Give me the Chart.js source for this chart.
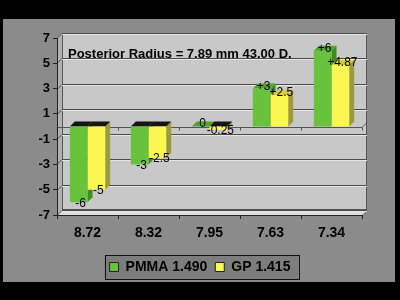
<!DOCTYPE html>
<html>
<head>
<meta charset="utf-8">
<script src="https://cdn.jsdelivr.net/npm/chart.js@4.4.1/dist/chart.umd.min.js"></script>
<style>
  html, body { margin: 0; padding: 0; background: #000; }
  #wrap { width: 400px; height: 300px; }
</style>
</head>
<body>
<div id="wrap"><canvas id="chart" width="400" height="300"></canvas></div>
<script>
// data
const categories = ['8.72', '8.32', '7.95', '7.63', '7.34'];
const pmmaValues = [-6, -3, 0, 3, 6];
const gpValues = [-5, -2.5, -0.25, 2.5, 4.87];
const seriesNames = ['PMMA 1.490', 'GP 1.415'];
const chartTitle = 'Posterior Radius = 7.89 mm 43.00 D.';

const FONT = '"Liberation Sans", Arial, sans-serif';
const D = 5; // 3d depth

function fmt(v) {
  return v > 0 ? '+' + v : String(v);
}

function quad(ctx, pts, fill) {
  ctx.beginPath();
  ctx.moveTo(pts[0][0], pts[0][1]);
  for (let i = 1; i < pts.length; i++) ctx.lineTo(pts[i][0], pts[i][1]);
  ctx.closePath();
  ctx.fillStyle = fill;
  ctx.fill();
}

// panel, walls, back grid, title
const backdrop = {
  id: 'backdrop',
  afterLayout(chart) {
    // centre the legend on the whole panel, not on the padded area
    const lg = chart.legend;
    lg.right = chart.width;
    lg.width = chart.width - lg.left;
  },
  beforeDraw(chart) {
    const ctx = chart.ctx;
    const a = chart.chartArea;
    const y = chart.scales.y;
    ctx.save();
    ctx.fillStyle = '#000';
    ctx.fillRect(0, 0, chart.width, chart.height);
    ctx.fillStyle = '#8b8b8b';
    ctx.fillRect(3, 19, 392, 263);

    // back wall
    ctx.fillStyle = '#c8c8c8';
    ctx.fillRect(a.left + D, a.top - D, a.width, a.height);
    // left wall
    quad(ctx, [[a.left, a.top], [a.left + D, a.top - D], [a.left + D, a.bottom - D], [a.left, a.bottom]], '#b2b2b2');
    // floor
    quad(ctx, [[a.left, a.bottom], [a.left + D, a.bottom - D], [a.right + D, a.bottom - D], [a.right, a.bottom]], '#dedede');

    ctx.strokeStyle = '#555';
    ctx.lineWidth = 1;
    ctx.strokeRect(a.left + D + 0.5, a.top - D + 0.5, a.width - 1, a.height - 1);

    // grid on back wall
    y.ticks.forEach(t => {
      const py = Math.round(y.getPixelForValue(t.value)) + 0.5;
      ctx.beginPath();
      ctx.moveTo(a.left, py);
      ctx.lineTo(a.left + D, py - D);
      ctx.lineTo(a.right + D, py - D);
      ctx.strokeStyle = '#4a4a4a';
      ctx.stroke();
      ctx.beginPath();
      ctx.moveTo(a.left + D, py - D + 1);
      ctx.lineTo(a.right + D, py - D + 1);
      ctx.strokeStyle = '#e6e6e6';
      ctx.stroke();
    });

    // category plane at zero
    const z = Math.round(y.getPixelForValue(0)) + 0.5;
    ctx.beginPath();
    ctx.moveTo(a.left, z);
    ctx.lineTo(a.right, z);
    ctx.lineTo(a.right + D, z - D);
    ctx.strokeStyle = '#555';
    ctx.stroke();
    const x = chart.scales.x;
    for (let i = 1; i <= categories.length; i++) {
      const px = Math.round(x.getPixelForValue(i - 0.5)) + 0.5;
      ctx.beginPath();
      ctx.moveTo(px, z);
      ctx.lineTo(px, z + 3);
      ctx.stroke();
    }

    // legend frame
    const boxes = chart.legend.legendHitBoxes;
    if (boxes && boxes.length) {
      const l = Math.min(...boxes.map(b => b.left)) - 5;
      const r = Math.max(...boxes.map(b => b.left + b.width)) + 8;
      const t = boxes[0].top - 5;
      const h = boxes[0].height + 10;
      ctx.fillStyle = '#7d7d7d';
      ctx.fillRect(l, t, r - l, h);
      ctx.strokeStyle = '#111';
      ctx.strokeRect(Math.round(l) + 0.5, Math.round(t) + 0.5, Math.round(r - l), Math.round(h));
    }

    // caption inside the plot
    ctx.fillStyle = '#000';
    ctx.font = 'bold 13px ' + FONT;
    ctx.textBaseline = 'middle';
    ctx.textAlign = 'left';
    ctx.fillText(chartTitle, 68, 54);
    ctx.restore();
  }
};

// side and top faces of each bar, drawn behind the fronts
const faces = {
  id: 'faces',
  beforeDatasetsDraw(chart) {
    const ctx = chart.ctx;
    ctx.save();
    chart.data.datasets.forEach((ds, di) => {
      chart.getDatasetMeta(di).data.forEach((el, i) => {
        const p = el.getProps(['x', 'y', 'base', 'width'], true);
        const l = p.x - p.width / 2;
        const r = p.x + p.width / 2;
        const top = Math.min(p.y, p.base);
        const bot = Math.max(p.y, p.base);
        const v = ds.data[i];
        quad(ctx, [[r, top], [r + D, top - D], [r + D, bot - D], [r, bot]], ds.sideColor);
        quad(ctx, [[l, top], [l + D, top - D], [r + D, top - D], [r, top]], v < 0 ? '#151515' : ds.topColor);
      });
    });
    ctx.restore();
  },
  afterDatasetsDraw(chart) {
    const ctx = chart.ctx;
    ctx.save();
    ctx.fillStyle = '#000';
    ctx.font = '12px ' + FONT;
    ctx.textAlign = 'center';
    ctx.textBaseline = 'middle';
    chart.data.datasets.forEach((ds, di) => {
      chart.getDatasetMeta(di).data.forEach((el, i) => {
        const v = ds.data[i];
        const off = v > 0 ? -2 : (v < 0 ? 1 : -3);
        ctx.fillText(fmt(v), el.x + 2, el.y + off);
      });
    });
    ctx.restore();
  }
};

new Chart(document.getElementById('chart'), {
  type: 'bar',
  data: {
    labels: categories,
    datasets: [
      {
        label: seriesNames[0],
        data: pmmaValues,
        backgroundColor: '#68c23c',
        sideColor: '#3f8a22',
        topColor: '#4fa42c',
        borderWidth: 0
      },
      {
        label: seriesNames[1],
        data: gpValues,
        backgroundColor: '#fbf650',
        sideColor: '#9c9a3c',
        topColor: '#cfcb44',
        borderWidth: 0
      }
    ]
  },
  options: {
    responsive: false,
    animation: false,
    devicePixelRatio: 1,
    layout: { padding: { top: 38, left: 0, right: 38, bottom: 16 } },
    datasets: {
      bar: { categoryPercentage: 0.58, barPercentage: 1 }
    },
    scales: {
      x: {
        grid: { drawOnChartArea: false, drawTicks: true, tickLength: 4, color: '#222' },
        border: { display: true, color: '#222' },
        ticks: { color: '#000', font: { family: FONT, size: 14, weight: 'bold' }, padding: 6 },
        afterFit(scale) { scale.height = 37; }
      },
      y: {
        min: -7,
        max: 7,
        ticks: { stepSize: 2, color: '#000', font: { family: FONT, size: 13, weight: 'bold' }, padding: 3 },
        grid: { drawOnChartArea: false, drawTicks: true, tickLength: 4, color: '#222' },
        border: { display: true, color: '#222' },
        afterFit(scale) { scale.width = 57; }
      }
    },
    plugins: {
      legend: {
        position: 'bottom',
        labels: {
          boxWidth: 9,
          boxHeight: 9,
          padding: 8,
          color: '#000',
          font: { family: FONT, size: 14, weight: 'bold' },
          generateLabels(chart) {
            return Chart.defaults.plugins.legend.labels.generateLabels(chart).map(it => {
              it.strokeStyle = '#222';
              it.lineWidth = 1;
              return it;
            });
          }
        }
      },
      tooltip: { enabled: false }
    }
  },
  plugins: [backdrop, faces]
});
</script>
</body>
</html>
